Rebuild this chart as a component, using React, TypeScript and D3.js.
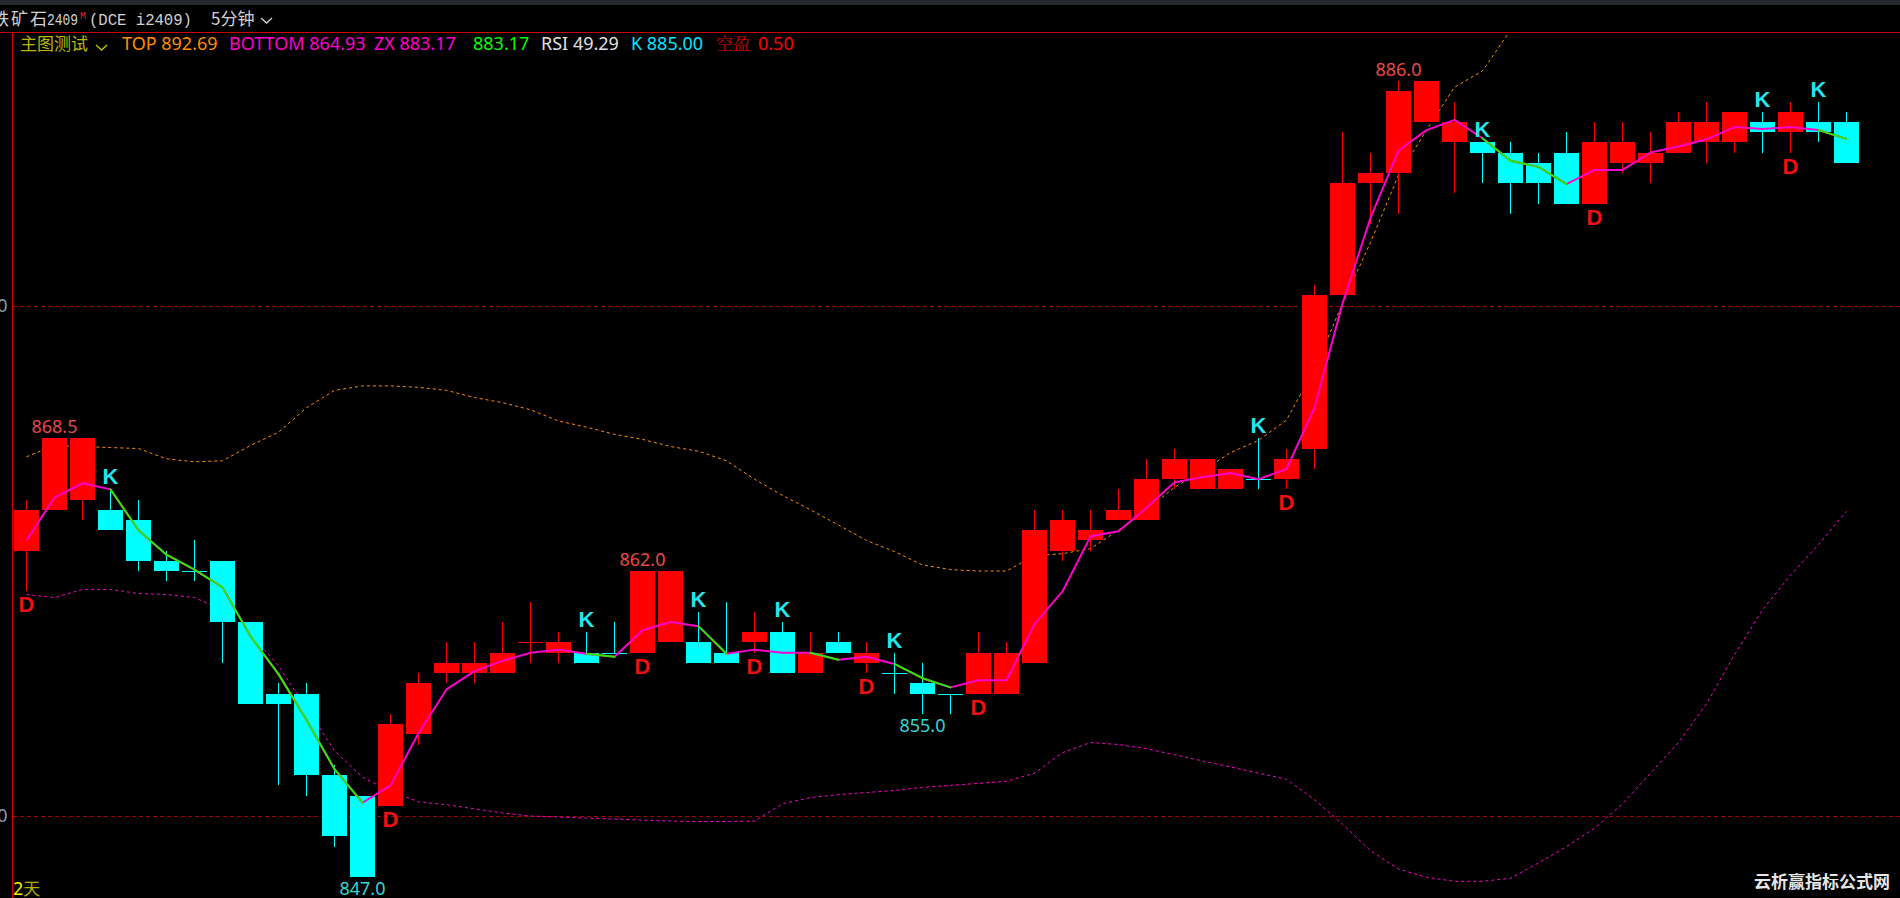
import React from 'react';
import * as d3 from 'd3';

const W = 1900;
const H = 898;

// ---- data (5-minute candles, 铁矿石2409) ----
const opens = [863, 865, 865.5, 865, 864.5, 862.5, 862, 862.5, 859.5, 856, 856, 852, 851, 850.5, 854, 857, 857, 857, 858.5, 858, 858, 858, 858, 858.5, 858.5, 858, 858.5, 859, 857, 858.5, 857.5, 857, 856.5, 856, 856, 856, 857.5, 863, 863.5, 864.5, 864.5, 866.5, 866, 866, 866.5, 866.5, 868, 875.5, 881, 881.5, 884, 883, 883, 882.5, 882, 882.5, 880, 882, 882, 882.5, 883, 883, 884, 883.5, 884, 884];
const highs = [865.5, 868.5, 868.5, 866, 865.5, 863, 863.5, 862.5, 859.5, 856.5, 856.5, 852.5, 851, 855, 857, 858.5, 858.5, 859.5, 860.5, 859, 859, 859.5, 862, 862, 860, 860.5, 860, 859.5, 859, 859, 858.5, 858, 857.5, 856, 859, 858.5, 865, 865, 865, 866, 867.5, 868, 867.5, 867, 868.5, 868, 876, 883.5, 882.5, 886, 886, 885, 883, 883, 882.5, 883.5, 884, 884, 883.5, 884.5, 885, 884.5, 884.5, 885, 885, 884.5];
const lows = [861, 865, 864.5, 864, 862, 861.5, 861.5, 857.5, 855.5, 851.5, 851, 848.5, 847, 850.5, 853.5, 856.5, 856.5, 857, 857.5, 857.5, 857.5, 858, 858, 858.5, 857.5, 857.5, 858, 857, 857, 858, 857, 856, 855, 855, 856, 856, 857.5, 862.5, 863, 864.5, 864.5, 866, 866, 866, 866, 866, 867, 875.5, 879, 879.5, 884, 880.5, 881, 879.5, 880, 880, 880, 881.5, 881, 882.5, 882, 882.5, 882.5, 882.5, 883, 882];
const closes = [865, 868.5, 868.5, 864, 862.5, 862, 862, 859.5, 855.5, 855.5, 852, 849, 847, 854.5, 856.5, 857.5, 857.5, 858, 858.5, 858.5, 857.5, 858, 862, 862, 857.5, 857.5, 859, 857, 858, 858, 858, 857, 856, 856, 858, 858, 864, 864.5, 864, 865, 866.5, 867.5, 867.5, 867, 866.5, 867.5, 875.5, 881, 881.5, 885.5, 886, 884, 882.5, 881, 881, 880, 883, 883, 882.5, 884, 884, 884.5, 883.5, 884.5, 883.5, 882];
const redDojiIdx = [18];

const zxValues = [863.5, 865.6, 866.3, 866.0, 864.0, 862.8, 862.07, 861.2, 858.8, 856.95, 854.7, 852.3, 850.65, 851.5, 854.05, 856.2, 857.1, 857.6, 858.0, 858.15, 857.95, 857.8, 859.1, 859.5, 859.3, 857.95, 858.15, 858.0, 858.0, 857.65, 857.8, 857.45, 856.75, 856.3, 856.65, 856.65, 859.4, 861.0, 863.7, 863.95, 865.1, 866.35, 866.6, 866.8, 866.5, 867.0, 870.0, 875.1, 879.3, 882.6, 883.6, 884.1, 883.2, 882.1, 881.8, 880.95, 881.65, 881.65, 882.5, 882.8, 883.15, 883.75, 883.65, 883.75, 883.6, 883.17];

const topBand = [867.6, 868.15, 868.1, 868.05, 868.0, 867.5, 867.35, 867.4, 868.15, 868.8, 870.0, 870.85, 871.07, 871.07, 871.0, 870.85, 870.5, 870.25, 869.9, 869.35, 869.05, 868.7, 868.45, 868.1, 867.87, 867.4, 866.5, 865.7, 865.0, 864.25, 863.5, 862.95, 862.3, 862.07, 862.0, 862.0, 862.75, 862.85, 863.1, 864.0, 865.0, 866.1, 866.9, 867.8, 868.4, 869.4, 871.9, 875.1, 878.1, 881.4, 883.6, 885.7, 886.5, 888.5, 889.5, 890.3, 890.9, 891.3, 891.6, 891.9, 892.1, 892.3, 892.4, 892.5, 892.6, 892.69];
const bottomBand = [860.85, 860.7, 861.1, 861.1, 860.9, 860.85, 860.7, 860.1, 858.9, 857.35, 855.3, 853.2, 851.9, 851.2, 850.7, 850.55, 850.35, 850.15, 850.0, 849.95, 849.9, 849.85, 849.8, 849.75, 849.73, 849.73, 849.75, 850.6, 850.9, 851.05, 851.15, 851.25, 851.4, 851.5, 851.6, 851.7, 852.1, 853.1, 853.6, 853.5, 853.3, 853.0, 852.7, 852.4, 852.1, 851.8, 850.8, 849.6, 848.3, 847.4, 847.0, 846.8, 846.8, 846.95, 847.7, 848.5, 849.4, 850.6, 852.1, 853.6, 855.5, 857.9, 860.1, 861.8, 863.3, 864.93];

const kSignalIdx = [3, 20, 24, 27, 31, 44, 52, 62, 64];
const dSignalIdx = [0, 13, 22, 26, 30, 34, 45, 56, 63];
const highLabelIdx = [1, 22, 49];
const lowLabelIdx = [12, 32];
const gridTicks = [850, 875];

const rsiValue = 49.29;
const kValue = 885.0;
const kongYing = 0.5;

const RED = '#ff0000';
const CYAN = '#00ffff';
const MAGENTA = '#ff00cc';
const GREEN = '#2ee600';
const ORANGE = '#ff8c00';

export default function App() {
  React.useEffect(() => {
    document.body.style.margin = '0';
    document.body.style.background = '#000';
  }, []);

  const n = closes.length;
  const idx = d3.range(n);
  const x = d3.scaleLinear().domain([0, 1]).range([26.5, 54.5]);
  const y = d3.scaleLinear().domain([850, 875]).range([816, 305.67]);
  const ry = (v: number) => Math.round(y(v));

  const isUp = (i: number) =>
    closes[i] > opens[i] || (closes[i] === opens[i] && redDojiIdx.includes(i));

  // state: K (short) or D (long)
  const signals: { i: number; t: 'K' | 'D' }[] = [
    ...kSignalIdx.map((i) => ({ i, t: 'K' as const })),
    ...dSignalIdx.map((i) => ({ i, t: 'D' as const })),
  ].sort((a, b) => a.i - b.i);
  const state: string[] = idx.map((i) => {
    let s = 'D';
    for (const sg of signals) if (sg.i <= i) s = sg.t;
    return s;
  });
  // green segments: in K state and ZX falling
  const greenSegs: number[][] = [];
  for (let i = 0; i < n - 1; i++) {
    if (state[i] === 'K' && state[i + 1] === 'K' && zxValues[i + 1] < zxValues[i]) {
      greenSegs.push([i, i + 1]);
    }
  }

  const zxLine = d3.line<number>().x((i) => x(i)).y((i) => y(zxValues[i]));
  const topLine = d3.line<number>().x((i) => x(i)).y((i) => y(topBand[i]));
  const botLine = d3.line<number>().x((i) => x(i)).y((i) => y(bottomBand[i]));

  const numFont = '"Noto Sans", "DejaVu Sans", sans-serif';
  const cjkFont = '"Noto Sans CJK SC", sans-serif';
  const sigFont = '"Liberation Sans", Arial, sans-serif';

  return (
    <svg
      width={W}
      height={H}
      style={{ position: 'absolute', left: 0, top: 0, display: 'block' }}
    >
      <defs>
        <clipPath id="plot">
          <rect x={13} y={33} width={W - 13} height={H - 33} />
        </clipPath>
      </defs>
      <rect x={0} y={0} width={W} height={H} fill="#000" />
      <rect x={0} y={0} width={W} height={5} fill="#25282d" />

      {/* title row */}
      <text x={-8} y={25} fill="#d0d0d0" fontFamily={cjkFont} fontSize={17} letterSpacing={2}>
        铁矿石
      </text>
      <text
        x={47}
        y={25}
        fill="#d0d0d0"
        fontFamily='"Liberation Mono", monospace'
        fontSize={17}
        textLength={31}
        lengthAdjust="spacingAndGlyphs"
      >
        2409
      </text>
      <text x={80} y={19} fill="#e02020" fontFamily='"Liberation Mono", monospace' fontSize={10}>
        M
      </text>
      <text x={89} y={25} fill="#d0d0d0" fontFamily='"Liberation Mono", monospace' fontSize={15.6}>
        (DCE i2409)
      </text>
      <text x={211} y={25} fill="#d0d0d0" fontFamily={cjkFont} fontSize={17}>
        5分钟
      </text>
      <polyline points="261,18 266.5,23 272,18" fill="none" stroke="#d0d0d0" strokeWidth={1.3} />

      {/* frame */}
      <line x1={0} x2={W} y1={32.5} y2={32.5} stroke="#d00000" strokeWidth={1} />
      <line x1={12.5} x2={12.5} y1={32} y2={H} stroke="#d00000" strokeWidth={1} />

      {/* grid */}
      {gridTicks.map((t) => (
        <g key={t}>
          <line
            x1={13}
            x2={W}
            y1={ry(t) + 0.5}
            y2={ry(t) + 0.5}
            stroke="#a00000"
            strokeDasharray="4,3"
            strokeWidth={1}
          />
          <text
            x={7.5}
            y={ry(t) + 6}
            textAnchor="end"
            fill="#8a9aae"
            fontFamily={numFont}
            fontSize={18}
          >
            {t.toFixed(1)}
          </text>
        </g>
      ))}

      {/* header indicators */}
      <g fontFamily={numFont} fontSize={18}>
        <text x={20} y={50} fill="#b8b800" fontFamily={cjkFont} fontSize={17}>
          主图测试
        </text>
        <polyline points="96,45 101.5,50 107,45" fill="none" stroke="#c8c800" strokeWidth={1.3} />
        <text x={122} y={50} fill={ORANGE}>
          TOP {topBand[n - 1].toFixed(2)}
        </text>
        <text x={229} y={50} fill={MAGENTA}>
          BOTTOM {bottomBand[n - 1].toFixed(2)}
        </text>
        <text x={374} y={50} fill={MAGENTA}>
          ZX {zxValues[n - 1].toFixed(2)}
        </text>
        <text x={473} y={50} fill="#00ff00">
          {zxValues[n - 1].toFixed(2)}
        </text>
        <text x={541} y={50} fill="#e0e0e0">
          RSI {rsiValue.toFixed(2)}
        </text>
        <text x={631} y={50} fill="#00e5ff">
          K {kValue.toFixed(2)}
        </text>
        <text x={716} y={50} fill="#cc0000" fontFamily='"Noto Serif CJK SC", "Noto Sans CJK SC", serif' fontSize={17}>
          空盈
        </text>
        <text x={758} y={50} fill={RED}>
          {kongYing.toFixed(2)}
        </text>
      </g>

      <g clipPath="url(#plot)">
        {/* bands */}
        <path d={topLine(idx) || ''} fill="none" stroke={ORANGE} strokeWidth={1} strokeDasharray="3,3" />
        <path d={botLine(idx) || ''} fill="none" stroke={MAGENTA} strokeWidth={1} strokeDasharray="3,3" />

        {/* candles */}
        {idx.map((i) => {
          const c = isUp(i) ? RED : CYAN;
          const cx = x(i);
          const top = ry(Math.max(opens[i], closes[i]));
          const bot = ry(Math.min(opens[i], closes[i]));
          return (
            <g key={i}>
              <line x1={cx} x2={cx} y1={ry(highs[i])} y2={ry(lows[i])} stroke={c} strokeWidth={1} />
              {bot - top >= 1 ? (
                <rect x={cx - 12.5} y={top} width={25} height={bot - top} fill={c} />
              ) : (
                <line x1={cx - 12.5} x2={cx + 12.5} y1={top + 0.5} y2={top + 0.5} stroke={c} strokeWidth={1} />
              )}
            </g>
          );
        })}

        {/* ZX line */}
        <path d={zxLine(idx) || ''} fill="none" stroke={MAGENTA} strokeWidth={2} strokeLinejoin="round" />
        {greenSegs.map((seg, k) => (
          <path key={k} d={zxLine(seg) || ''} fill="none" stroke={GREEN} strokeWidth={2} strokeLinecap="round" />
        ))}

        {/* K / D signals */}
        {kSignalIdx.map((i) => (
          <text
            key={'k' + i}
            x={x(i)}
            y={ry(highs[i]) - 5}
            textAnchor="middle"
            fill="#22e6ee"
            fontFamily={sigFont}
            fontWeight="bold"
            fontSize={22}
          >
            K
          </text>
        ))}
        {dSignalIdx.map((i) => (
          <text
            key={'d' + i}
            x={x(i)}
            y={ry(lows[i]) + 21}
            textAnchor="middle"
            fill="#f01010"
            fontFamily={sigFont}
            fontWeight="bold"
            fontSize={22}
          >
            D
          </text>
        ))}

        {/* extreme labels */}
        {highLabelIdx.map((i) => (
          <text
            key={'h' + i}
            x={x(i)}
            y={ry(highs[i]) - 5}
            textAnchor="middle"
            fill="#e84848"
            fontFamily={numFont}
            fontSize={18}
          >
            {highs[i].toFixed(1)}
          </text>
        ))}
        {lowLabelIdx.map((i) => (
          <text
            key={'l' + i}
            x={x(i)}
            y={ry(lows[i]) + 18}
            textAnchor="middle"
            fill="#33d6d6"
            fontFamily={numFont}
            fontSize={18}
          >
            {lows[i].toFixed(1)}
          </text>
        ))}
      </g>

      {/* bottom-left period */}
      <text x={13} y={895} fontFamily={numFont} fontSize={18}>
        <tspan fill="#f0f000">2</tspan>
        <tspan fill="#b0b000" fontFamily={cjkFont} fontSize={17}>天</tspan>
      </text>

      {/* watermark */}
      <text
        x={1890}
        y={888}
        textAnchor="end"
        fill="#e6e6e6"
        fontFamily={cjkFont}
        fontWeight="bold"
        fontSize={17}
      >
        云析赢指标公式网
      </text>
    </svg>
  );
}
